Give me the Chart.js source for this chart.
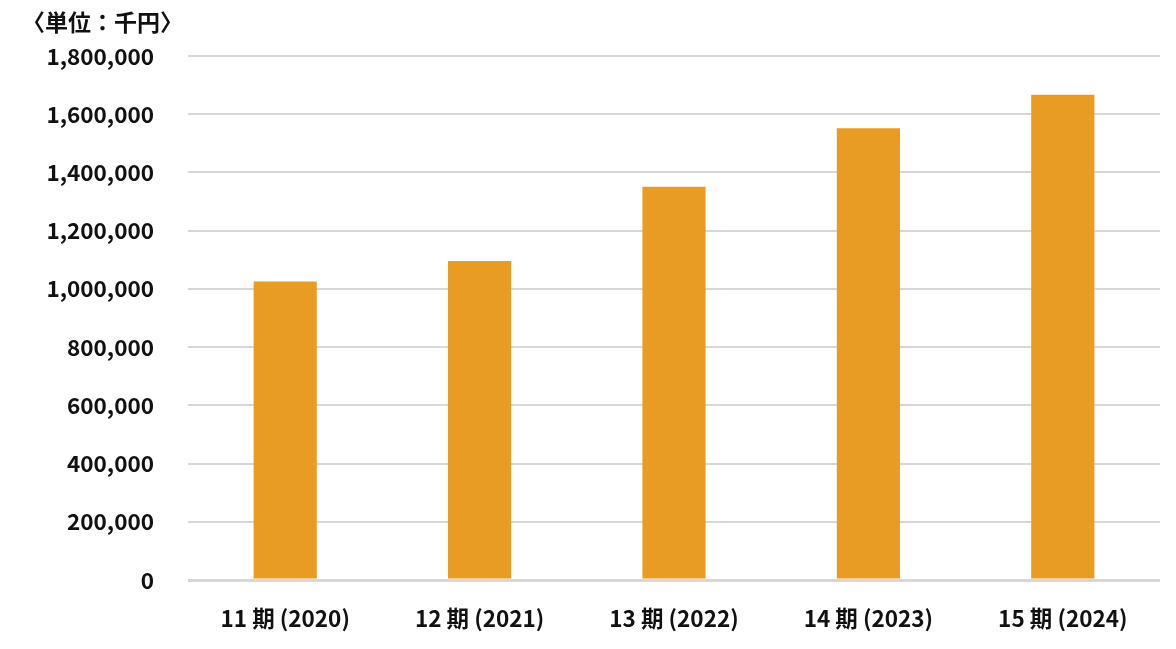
<!DOCTYPE html>
<html>
<head>
<meta charset="utf-8">
<script src="https://cdn.jsdelivr.net/npm/chart.js@4"></script>
<style>
  html, body { margin: 0; padding: 0; background: #fff; }
  #myChart { display: block; }
</style>
</head>
<body>
<canvas id="myChart" width="1176" height="649"></canvas>
<script>
const ctx = document.getElementById('myChart')

const periods = [ '11 期 (2020)', '12 期 (2021)', '13 期 (2022)', '14 期 (2023)', '15 期 (2024)' ]
const sales = [ 1025000, 1096000, 1351000, 1552000, 1667000 ]
const unitLabel = '〈単位：千円〉'

const fontFamily = '"Noto Sans CJK JP", "Noto Sans", sans-serif'

// unit label in the top-left corner
const unitPlugin = {
  id: 'unitLabel',
  afterDraw(chart) {
    const c = chart.ctx
    c.save()
    c.font = 'bold 23px ' + fontFamily
    c.fillStyle = '#111'
    c.textAlign = 'left'
    c.textBaseline = 'middle'
    c.fillText(unitLabel, 22, 22)
    c.restore()
  }
}

new Chart(ctx, {
  type: 'bar',
  data: {
    labels: periods,
    datasets: [{
      data: sales,
      backgroundColor: '#E99C24',
      barPercentage: 0.65,
      categoryPercentage: 0.5
    }]
  },
  options: {
    responsive: false,
    animation: false,
    layout: { padding: { top: 56, right: 16, left: 0, bottom: 0 } },
    plugins: {
      legend: { display: false },
      tooltip: { enabled: false }
    },
    scales: {
      x: {
        grid: { display: false, drawTicks: false },
        border: { display: false },
        ticks: {
          padding: 25,
          color: '#111',
          font: { family: fontFamily, size: 22.5, weight: 'bold' }
        },
        afterFit(scale) { scale.height = 69 }
      },
      y: {
        min: 0,
        max: 1800000,
        grid: {
          drawTicks: false,
          color: '#dbd6d6',
          lineWidth: c => c.tick && c.tick.value === 0 ? 3 : 2
        },
        border: { display: false },
        ticks: {
          stepSize: 200000,
          padding: 34,
          color: '#111',
          font: { family: fontFamily, size: 22.5, weight: 'bold' },
          callback: v => v.toLocaleString('en-US')
        },
        afterFit(scale) { scale.width = 188 }
      }
    }
  },
  plugins: [unitPlugin]
})
</script>
</body>
</html>
